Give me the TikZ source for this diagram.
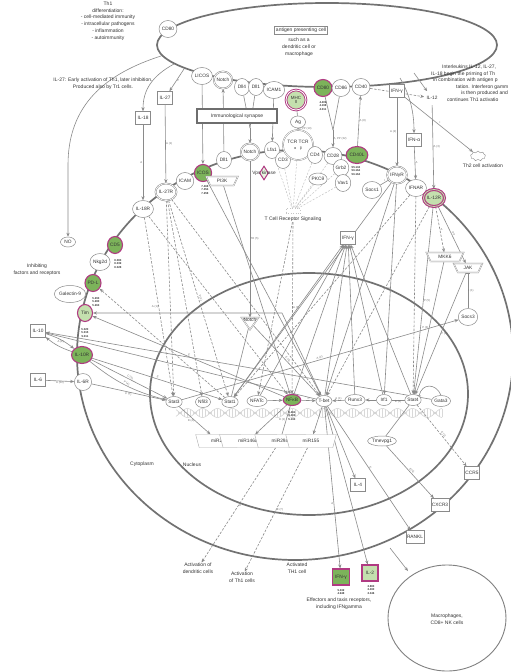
\documentclass[tikz,border=0pt]{standalone}
\usepackage{fontspec}
\setmainfont{Liberation Sans}
\usetikzlibrary{shapes.geometric,shapes.symbols,arrows.meta}
\definecolor{ln}{HTML}{8A8A8A}
\definecolor{mem}{HTML}{727272}
\definecolor{gfill}{HTML}{7CB35A}
\definecolor{lgfill}{HTML}{C4E0AE}
\definecolor{pinkb}{HTML}{B03A82}
\definecolor{txt}{HTML}{333333}
\pgfdeclarelayer{back}
\pgfdeclarelayer{edges}
\pgfsetlayers{back,edges,main}
\tikzset{
  lbl/.style={font=\fontsize{4.8}{5.4}\selectfont, text=txt, inner sep=0.5pt},
  mol/.style={ellipse, draw=ln, fill=white, line width=0.5pt, inner sep=0.2pt, minimum width=15pt, minimum height=17pt, font=\fontsize{4.8}{5.4}\selectfont, text=txt},
  dmol/.style={mol, double=white, double distance=0.7pt},
  gmol/.style={mol, fill=gfill, draw=pinkb, line width=1.1pt},
  lgmol/.style={mol, fill=lgfill, draw=pinkb, line width=1.1pt},
  cyt/.style={rectangle, draw=ln, fill=white, line width=0.5pt, minimum width=15pt, minimum height=13pt, inner sep=1pt, font=\fontsize{4.8}{5.4}\selectfont, text=txt},
  kin/.style={trapezium, trapezium angle=65, shape border rotate=180, draw=ln, fill=white, double=white, double distance=0.5pt, inner sep=0.5pt, minimum width=16pt, minimum height=9pt, font=\fontsize{4.8}{5.4}\selectfont, text=txt},
  mir/.style={trapezium, trapezium angle=75, shape border rotate=180, draw=ln!70, fill=white, inner sep=1pt, minimum width=12pt, minimum height=13pt, font=\fontsize{4.8}{5.4}\selectfont, text=txt},
  nums/.style={font=\fontsize{2.8}{3.1}\selectfont\bfseries, text=txt, align=center, inner sep=0pt},
  txtb/.style={font=\fontsize{5}{6.8}\selectfont, text=txt, align=center, inner sep=0pt},
  txtl/.style={font=\fontsize{5}{6}\selectfont, text=txt, anchor=west, inner sep=0pt},
  elab/.style={font=\fontsize{2.8}{3}\selectfont, text=ln!80!black, inner sep=0.4pt},
  arr/.style={draw=ln, line width=0.6pt, -{Stealth[length=4pt,width=3.2pt]}},
  dar/.style={arr, dash pattern=on 2.5pt off 1.5pt},
  dln/.style={draw=ln, line width=0.45pt, dash pattern=on 2pt off 1.5pt},
  sln/.style={draw=ln, line width=0.6pt},
  inh/.style={draw=ln, line width=0.6pt, -{Bar[width=4pt]}},
  memb/.style={draw=mem, line width=1.7pt},
}
\begin{document}
\begin{tikzpicture}[x=1pt,y=-1pt]
\useasboundingbox (0,0) rectangle (511,672);
\begin{pgfonlayer}{back}
\fill[white] (0,0) rectangle (511,672);
\draw[memb] (327,45) ellipse [x radius=170, y radius=42];
\begin{scope}
\clip (0,0) rectangle (511,672);
\draw[memb] (295,355) ellipse [x radius=218, y radius=205];
\end{scope}
\draw[memb] (309,394) ellipse [x radius=159, y radius=121];
\draw[gray!40, line width=0.5pt] plot[domain=176:442, samples=160] (\x,{413+4.5*sin(12*\x)});
\draw[gray!40, line width=0.5pt] plot[domain=176:442, samples=160] (\x,{413-4.5*sin(12*\x)});
\foreach \i in {178,181,...,442} \draw[gray!30, line width=0.3pt] (\i,{413-4.5*sin(12*\i)}) -- (\i,{413+4.5*sin(12*\i)});
\draw[draw=mem!90, line width=0.9pt] (447,618) ellipse [x radius=59, y radius=53];
\end{pgfonlayer}

% ---------- free texts
\node[txtb] (th1t) at (108,21) {Th1\\differentiation:\\- cell-mediated immunity\\- intracellular pathogens\\- inflammation\\- autoimmunity};
\node[txtb] (il27t) at (103,84) {IL-27: Early activation of Th1, later inhibition.\\Produced also by Tr1 cells.};
\node[txtb] (inht) at (37,270) {Inhibiting\\factors and receptors};
\node[txtl] (il1) at (442,67) {Interleukins IL-12, IL-27,};
\node[txtl] (il2) at (431,74) {IL-18 begin the priming of Th};
\node[txtl] (il3) at (433,80) {in combination with antigen p};
\node[txtl] (il4) at (456,87) {tation. Interferon gamm};
\node[txtl] (il5) at (461,93) {is then produced and};
\node[txtl] (il6) at (447,100) {continues Th1 activatio};
\node[txtb] (cyto) at (142,464) {Cytoplasm};
\node[txtb] (nucl) at (192,465) {Nucleus};
\node[txtb] (actdc) at (198,568) {Activation of\\dendritic cells};
\node[txtb] (actth1) at (242,577) {Activation\\of Th1 cells};
\node[txtb] (acttext) at (297,568) {Activated\\TH1 cell};
\node[txtb] (efft) at (339,604) {Effectors and taxis receptors,\\including IFNgamma};
\node[txtb] (macro) at (447,619) {Macrophages,\\CD8+ NK cells};

% ---------- APC
\node[mol] (CD80a) at (168,29) {CD80};
\node[rectangle, draw=ln, line width=0.4pt, fill=white, font=\fontsize{5}{6}\selectfont, text=txt, inner sep=1.5pt] (apcl) at (301,30) {antigen presenting cell};
\node[txtb] (apct) at (299,47) {such as a\\dendritic cell or\\macrophage};
\node[mol] (LiCOS) at (202,76) {LICOS};
\node[dmol] (NotchT) at (223,80) {Notch};
\node[mol] (Dll4) at (242,87) {Dll4};
\node[mol] (Dll1a) at (256,87) {Dll1};
\node[mol] (ICAM1) at (274,90) {ICAM1};
\node[circle, draw=pinkb, line width=0.9pt, double=white, double distance=0.8pt, fill=lgfill, minimum size=20pt, inner sep=0pt, align=center, font=\fontsize{4.5}{4.8}\selectfont, text=txt] (MHC) at (296,100) {MHC\\II};
\node[gmol] (CD80g) at (323,88) {CD80};
\node[nums] at (323,106) {4.409\\4.198\\4.011};
\node[mol] (CD86) at (341,88) {CD86};
\node[mol] (CD40) at (361,87) {CD40};
\node[cyt] (IFNg) at (397,91) {IFN-γ};
\node[cyt, double=white, double distance=0.6pt] (IL12) at (432,98) {IL-12};
\node[cyt] (IFNa) at (414,140) {IFN-α};
\node[cyt] (IL27) at (165,98) {IL-27};
\node[cyt] (IL18) at (143,118) {IL-18};
\node[mol, minimum height=10pt] (NO) at (68,242) {NO};
\node[mol, minimum height=12pt] (Ag) at (298,122) {Ag};
\node[rectangle, draw=ln!80!black, line width=1.1pt, fill=white, minimum width=80pt, minimum height=14pt, font=\fontsize{5}{6}\selectfont, text=txt] (syn) at (237,116) {Immunological synapse};
\node[cloud, cloud puffs=9, draw=ln, fill=white, minimum width=15pt, minimum height=10pt, inner sep=0pt] (Th2) at (478,156) {};
\node[txtb] (th2t) at (483,166) {Th2 cell activation};

% ---------- membrane
\node[mol] (IL18R) at (143,209) {IL-18R};
\node[dmol] (IL27R) at (166,192) {IL-27R};
\node[mol] (ICAM) at (185,181) {ICAM};
\node[gmol] (ICOS) at (203,173) {ICOS};
\node[nums] at (205,190) {7.468\\7.354\\7.258};
\node[kin] (PI3K) at (222,181) {PI3K};
\node[mol] (Dll1b) at (224,160) {Dll1};
\node[dmol] (NotchM) at (250,152) {Notch};
\node[mol] (Lfa1) at (272,150) {Lfa1};
\node[mol] (CD3) at (283,160) {CD3};
\node[circle, draw=ln, double=white, double distance=0.7pt, fill=white, minimum size=30pt, inner sep=0pt, align=center, font=\fontsize{4.8}{5.4}\selectfont, text=txt] (TCR) at (298,145) {TCR TCR\\[1pt]{\fontsize{3.6}{4}\selectfont α\quad β}};
\node[mol] (CD4) at (315,155) {CD4};
\node[mol] (CD28) at (333,156) {CD28};
\node[mol] (Grb2) at (341,168) {Grb2};
\node[mol] (Vav1) at (343,183) {Vav1};
\node[mol, minimum height=12pt] (PKC) at (318,179) {PKCθ};
\node[gmol] (CD40L) at (357,155) {CD40L};
\node[nums] at (356,171) {55.134\\56.164\\56.164};
\node[diamond, draw=pinkb, line width=1pt, fill=lgfill!40, minimum width=9pt, minimum height=14pt, inner sep=0pt] (Vk) at (264,173) {};
\node[lbl] at (264,173) {Vps kinase};
\node[dmol] (IFNgR) at (397,175) {IFNγR};
\node[mol] (IFNAR) at (416,188) {IFNAR};
\node[lgmol, double=lgfill, double distance=0.8pt] (IL12R) at (434,198) {IL-12R};
\node[mol] (Socs1) at (372,190) {Socs1};
\node[rectangle, draw=ln!50, dotted, minimum width=14pt, minimum height=5pt, inner sep=0pt] (hub) at (293,211) {};
\node[lbl, font=\fontsize{5}{6}\selectfont] (tcrs) at (293,219) {T Cell Receptor Signaling};
\node[cyt] (IFNgi) at (348,238) {IFN-γ};
\node[kin] (MKK6) at (445,257) {MKK6};
\node[kin] (JAK) at (468,268) {JAK};
\node[mol] (Socs3) at (468,317) {Socs3};

% ---------- left chain
\node[gmol] (CD5) at (115,245) {CD5};
\node[nums] at (118,264) {8.083\\8.039\\8.028};
\node[mol] (Nkg2d) at (100,262) {Nkg2d};
\node[gmol] (PDL) at (93,283) {PD-L};
\node[mol] (Galectin) at (70,294) {Galectin-9};
\node[nums] at (96,302) {5.293\\5.280\\5.263};
\node[lgmol] (Tim) at (85,313) {Tim};
\node[nums] at (85,333) {5.020\\5.015\\5.011};
\node[gmol] (IL10R) at (82,355) {IL-10R};
\node[cyt] (IL10) at (38,331) {IL-10};
\node[cyt] (IL6) at (38,380) {IL-6};
\node[mol] (IL6R) at (83,382) {IL-6R};

% ---------- nucleus
\node[mol, minimum height=11pt] (Stat3) at (174,402) {Stat3};
\node[mol, minimum height=11pt] (Nfil3) at (203,402) {Nfil3};
\node[mol, minimum height=11pt] (Stat1) at (230,402) {Stat1};
\node[mol, minimum height=11pt] (NFATc) at (257,401) {NFATc};
\node[gmol, minimum height=11pt] (NFkB) at (292,400) {NFκB};
\node[nums] at (292,416) {5.461\\5.404\\5.193};
\node[mol, minimum height=11pt] (Tbet) at (324,401) {T-bet};
\node[mol, minimum height=11pt] (Runx3) at (355,400) {Runx3};
\node[mol, minimum height=11pt] (Irf1) at (384,400) {Irf1};
\node[mol, minimum height=11pt] (Stat4) at (413,400) {Stat4};
\node[mol, minimum height=11pt] (Gata3) at (441,401) {Gata3};
\node[isosceles triangle, isosceles triangle apex angle=70, shape border rotate=270, draw=ln, double=white, double distance=0.6pt, fill=white, minimum width=14pt, minimum height=12pt, inner sep=0pt] (NotchI) at (250,322) {};
\node[lbl] at (250,320) {Notch};
\node[mir] (miR21) at (218,441) {miR21};
\node[mir] (miR146a) at (248,441) {miR146a};
\node[mir] (miR29a) at (280,441) {miR29a};
\node[mir] (miR155) at (311,441) {miR155};
\node[mol, minimum height=10pt] (Tmevpg1) at (382,441) {Tmevpg1};

% ---------- outputs
\node[cyt] (IL4) at (358,485) {IL-4};
\node[cyt] (CCR5) at (472,473) {CCR5};
\node[cyt] (CXCR3) at (440,505) {CXCR3};
\node[cyt] (RANKL) at (415,537) {RANKL};
\node[cyt, fill=gfill, draw=pinkb, line width=1.1pt, minimum width=17pt, minimum height=16pt] (IFNgo) at (341,577) {IFN-γ};
\node[nums] at (341,592) {5.332\\4.948};
\node[cyt, fill=lgfill, draw=pinkb, line width=1.1pt, minimum width=16pt, minimum height=16pt] (IL2) at (370,573) {IL-2};
\node[nums] at (371,590) {2.883\\2.490\\2.346};

% ---------- connectors
\begin{pgfonlayer}{edges}
\coordinate (a1) at (161,56);
\coordinate (a2) at (174,64);
\coordinate (a3) at (184,69);
\coordinate (a4) at (400,78);
\coordinate (a5) at (414,73);
\draw[arr] (a1) .. controls (105,74) and (68,105) .. (68,165) -- (NO);
\draw[arr] (a2) .. controls (152,76) and (143,90) .. (IL18);
\draw[arr] (a3) -- node[elab,right]{P} (IL27);
\draw[arr] (IL18) -- node[elab,left]{A} (IL18R);
\draw[arr] (IL27) -- node[elab,right]{A (1)} (IL27R);
\draw[arr] (LiCOS) -- (ICOS);
\draw[arr] (Dll1b) -- (NotchT);
\coordinate (dj) at (250,128);
\draw[sln] (Dll4) -- (dj);
\draw[sln] (Dll1a) -- (dj);
\draw[arr] (dj) -- (NotchM);
\draw[arr] (ICAM1) -- node[elab,left]{A (32)} (Lfa1);
\draw[sln] (MHC) -- (Ag);
\draw[arr] (Ag) -- node[elab,right]{A, PP (10)} (TCR);
\coordinate (cj) at (333,130);
\draw[sln] (CD80g) -- (cj);
\draw[sln] (CD86) -- (cj);
\draw[arr] (cj) -- node[elab,right]{A, PP (32)} (CD28);
\draw[arr] (CD40L) -- node[elab,right]{A (8)} (CD40);
\draw[arr] (a4) .. controls (410,95) and (414,112) .. (IFNa);
\draw[arr] (a5) -- (IL12);
\draw[dar] (CD40) -- (IL12);
\draw[arr] (IFNg) -- node[elab,left]{A (2)} (IFNgR);
\draw[arr] (IFNa) -- node[elab,right]{A} (IFNAR);
\draw[arr] (IL12) -- node[elab,right]{A (3)} (IL12R);
\draw[arr] (IFNg) -- node[elab,above right]{I} (Th2);
\draw[arr] (ICOS) -- (PI3K);
\draw[arr] (NotchM) -- node[elab,right]{TR (5)} (NotchI);
\foreach \n in {TCR,CD3,CD4,CD28,PKC,Vav1,Lfa1,Grb2} \draw[dln, draw=ln!55] (\n) -- (hub);
\draw[dar] (tcrs) -- node[elab,right]{A (3)} (NFkB);
\draw[dar] (tcrs) -- (NFATc);
% left chain
\draw[arr] (IL10) to[bend left=10] node[elab,below]{A (2)} (IL10R);
\draw[arr] (IL10R) to[bend left=10] (IL10);
\draw[arr] (Tbet) -- (IL10);
\draw[arr] (Gata3) -- (IL10);
\draw[arr] (IL6) -- node[elab,below]{A (12)} (IL6R);
\draw[arr] (IL10R) -- node[elab,above,sloped]{C (3)} (Stat3);
\draw[arr] (IL10R) to[bend right=12] node[elab,above,sloped]{P (4)} (Stat3);
\draw[arr] (IL6R) -- node[elab,below,sloped]{P (3)} (Stat3);
\draw[arr] (IL10R) -- node[elab,above,sloped]{E} (Stat1);
\draw[arr] (Tbet) -- (282,313) -- (Tim);
\draw[dar] (Stat1) -- (PDL);
\draw[arr] (NFkB) -- node[elab,above,sloped]{E} (Tim);
% receptors to nucleus
\draw[dar] (IL27R) -- (Stat3);
\draw[dar] (IL27R) -- (Nfil3);
\draw[dar] (IL27R) -- node[elab,above,sloped]{P (1)} (Stat1);
\draw[dar] (IL27R) -- (Tbet);
\draw[dar] (IL18R) -- node[elab,left]{A (1)} (Stat3);
\draw[dar] (IL18R) -- (NFkB);
\draw[arr] (ICOS) -- (Tbet);
\draw[arr] (PI3K) -- (NFkB);
\draw[arr] (IFNgR) -- (Stat1);
\draw[arr] (IFNgR) -- node[elab,left]{P (2)} (Irf1);
\draw[arr] (IFNgR) -- (Tbet);
\draw[inh] (Socs1) -- node[elab,above]{I} (IFNgR);
\draw[dar] (IFNAR) -- (Stat4);
\draw[dar] (IFNAR) -- (Stat1);
\draw[arr] (IL12R) -- node[elab,right]{P (5)} (Stat4);
\draw[dar] (IL12R) -- (Tbet);
\draw[dar] (IL12R) -- node[elab,right]{A} (MKK6);
\draw[arr] (IL12R) -- node[elab,above,sloped]{PP} (JAK);
\draw[arr] (MKK6) -- node[elab,left]{P (4)} (Stat4);
\draw[arr] (JAK) -- node[elab,right]{P (3)} (Stat4);
\draw[inh] (Socs3) -- node[elab,right]{I (1)} (JAK);
\draw[arr] (Stat3) -- node[elab,above,sloped]{A (2)} (Socs3);
\draw[inh] (Gata3.north) .. controls (436,383) and (422,383) .. (Stat4.north east);
\foreach \n in {Tbet,Stat4,Stat1,NFkB,Runx3,Irf1,NFATc} \draw[arr] (\n) -- (IFNgi);
% nucleus
\draw[arr] (NFATc) -- (NFkB);
\draw[arr] (NFkB) -- node[elab,above]{C} (Tbet);
\draw[arr] (Runx3) -- node[elab,above]{A (1)} (Tbet);
\draw[arr] (Irf1) -- (Runx3);
\draw[sln] (Stat4) -- node[elab,below]{E (1)} (Irf1);
\draw[arr] (NotchI) -- node[elab,above,sloped]{E (4)} (Tbet);
\draw[sln] (NotchI) -- (Stat1);
\draw[arr] (Stat3) -- node[elab,left]{E (4)} (miR21);
\draw[arr] (NFkB) -- (miR146a);
\draw[arr] (Tbet) -- (miR155);
\draw[sln] (NFkB) -- node[elab,left]{E (1)} (miR29a);
\draw[dar] (miR29a) -- node[elab,right]{E} (actdc);
\draw[dar] (miR155) -- node[elab,right]{E (7)} (actth1);
% outputs
\draw[arr] (Tbet) -- node[elab,left,pos=0.6]{A} (IFNgo);
\draw[arr] (Tbet) -- (IL2);
\draw[arr] (Tbet) -- (IL4);
\draw[arr] (Tbet) -- node[elab,above,sloped]{E} (RANKL);
\draw[sln] (Stat4) -- (Tmevpg1);
\draw[arr] (Tmevpg1) -- node[elab,above,sloped]{E (4)} (CXCR3);
\draw[dar] (Stat4) -- node[elab,above,sloped]{E (2)} (CCR5);
\coordinate (m1) at (390,548);
\coordinate (m2) at (408,571);
\draw[arr] (m1) -- (m2);
\end{pgfonlayer}
\end{tikzpicture}
\end{document}
